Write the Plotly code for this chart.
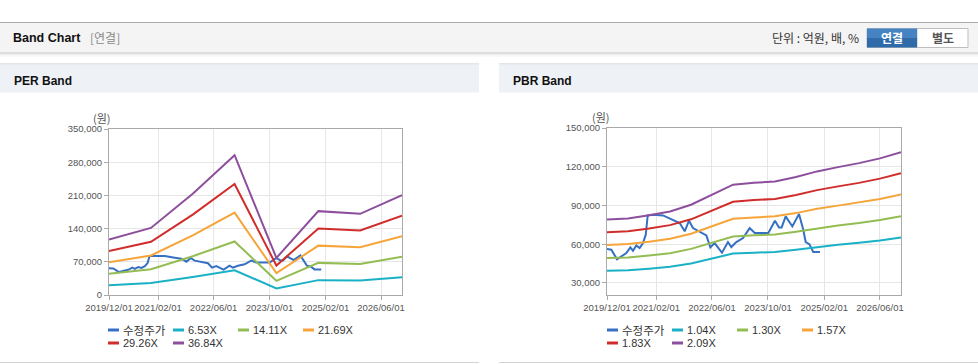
import plotly.graph_objects as go

W, H = 978, 364

# ---------------- data ----------------
price_name = "수정주가"
price_dates = ["2019-12-01", "2020-01-08", "2020-02-26", "2020-04-03", "2020-05-17", "2020-06-21",
               "2020-07-14", "2020-08-12", "2020-09-10", "2020-10-09", "2020-11-02", "2020-11-19",
               "2021-01-04", "2021-04-01", "2021-06-27", "2021-08-24", "2021-10-07", "2021-11-13",
               "2021-12-18", "2022-02-14", "2022-04-13", "2022-05-18", "2022-06-24", "2022-08-27",
               "2022-10-18", "2022-11-16", "2022-12-30", "2023-02-26", "2023-04-25", "2023-06-08",
               "2023-07-24", "2023-10-04", "2023-12-01", "2024-01-05", "2024-01-28", "2024-03-03",
               "2024-04-10", "2024-04-30", "2024-06-27", "2024-08-03", "2024-08-24", "2024-09-25",
               "2024-10-29", "2024-12-26"]
price_vals = [56300, 55800, 48300, 50600, 53200, 57600,
              55000, 59100, 57000, 60900, 67400, 82300,
              82800, 82300, 78700, 76400, 70000, 78200,
              72500, 69400, 66900, 57600, 60900, 53400,
              61700, 57800, 61700, 64800, 72500, 68700,
              68700, 68700, 78200, 73000, 73000, 81600,
              76400, 73800, 83400, 71200, 61700, 60100,
              54000, 54000]

per_dates = ["2019-12-01", "2020-12-01", "2021-12-01", "2022-12-01",
             "2023-12-01", "2024-12-01", "2025-12-01", "2026-12-01"]
per_names = ["6.53X", "14.11X", "21.69X", "29.26X", "36.84X"]
per_653 = [20740, 25060, 37840, 52250, 13840, 31340, 30330, 37350]
per_1411 = [44810, 54160, 81770, 112900, 29910, 67730, 65530, 80700]
per_2169 = [68890, 83250, 125700, 173600, 45980, 104100, 100700, 124000]
per_2926 = [92930, 112300, 169600, 234100, 62030, 140400, 135900, 167300]
per_3684 = [117000, 141400, 213500, 294800, 78100, 176800, 171100, 210700]

pbr_dates = ["2019-12-01", "2020-06-01", "2020-12-01", "2021-06-01", "2021-12-01",
             "2022-06-01", "2022-12-01", "2023-06-01", "2023-12-01", "2024-06-01",
             "2024-12-01", "2025-06-01", "2025-12-01", "2026-06-01", "2026-12-01"]
pbr_names = ["1.04X", "1.30X", "1.57X", "1.83X", "2.09X"]
pbr_104 = [39400, 39800, 41100, 42500, 45100, 48800, 52800, 53500, 54000, 55700, 57900, 59600, 61100, 62900, 65300]
pbr_130 = [49300, 49800, 51300, 53100, 56400, 61000, 66000, 66900, 67500, 69700, 72400, 74500, 76400, 78700, 81700]
pbr_157 = [59500, 60100, 62000, 64200, 68100, 73700, 79700, 80800, 81600, 84100, 87400, 89900, 92300, 95000, 98600]
pbr_183 = [69300, 70000, 72200, 74800, 79300, 85900, 92900, 94200, 95100, 98100, 101900, 104800, 107500, 110800, 115000]
pbr_209 = [79200, 80000, 82500, 85400, 90600, 98100, 106100, 107600, 108600, 112000, 116400, 119700, 122800, 126500, 131300]

x_tick_vals = ["2019-12-01", "2021-02-01", "2022-06-01", "2023-10-01", "2025-02-01", "2026-06-01"]
x_tick_text = ["2019/12/01", "2021/02/01", "2022/06/01", "2023/10/01", "2025/02/01", "2026/06/01"]
per_y_ticks = [0, 70000, 140000, 210000, 280000, 350000]
pbr_y_ticks = [30000, 60000, 90000, 120000, 150000]

# ---------------- style ----------------
colors = ["#3670c4", "#1ab1c6", "#93bd52", "#f6a53a", "#d12c2c", "#8d4f9d"]
FONT = "Liberation Sans, Noto Sans CJK KR, sans-serif"
KFONT = "Noto Sans CJK KR, Liberation Sans, sans-serif"


def px(x):
    return x / W


def py(y):
    return 1 - y / H


fig = go.Figure()

per_series = [per_653, per_1411, per_2169, per_2926, per_3684]
pbr_series = [pbr_104, pbr_130, pbr_157, pbr_183, pbr_209]

fig.add_trace(go.Scatter(x=price_dates, y=price_vals, mode="lines", name=price_name,
                         line=dict(color=colors[0], width=2), xaxis="x", yaxis="y"))
for i, (nm, s) in enumerate(zip(per_names, per_series)):
    fig.add_trace(go.Scatter(x=per_dates, y=s, mode="lines", name=nm,
                             line=dict(color=colors[i + 1], width=2), xaxis="x", yaxis="y"))

fig.add_trace(go.Scatter(x=price_dates, y=price_vals, mode="lines", name=price_name,
                         line=dict(color=colors[0], width=2), xaxis="x2", yaxis="y2"))
for i, (nm, s) in enumerate(zip(pbr_names, pbr_series)):
    fig.add_trace(go.Scatter(x=pbr_dates, y=s, mode="lines", name=nm,
                             line=dict(color=colors[i + 1], width=2), xaxis="x2", yaxis="y2"))

axis_common = dict(showline=True, linecolor="#aaaaaa", linewidth=1, mirror=True,
                   showgrid=True, gridcolor="#e6e6e6", gridwidth=1,
                   ticks="outside", ticklen=4, tickcolor="#aaaaaa", automargin=False,
                   tickangle=0,
                   tickfont=dict(family=FONT, size=9.5, color="#555555"), zeroline=False)

xr = ["2019-12-01", "2026-12-01"]
fig.update_layout(
    xaxis=dict(domain=[px(109), px(402)], anchor="y", type="date", range=xr,
               tickvals=x_tick_vals, ticktext=x_tick_text, **axis_common),
    yaxis=dict(domain=[py(295), py(129)], anchor="x", range=[0, 350000],
               tickvals=per_y_ticks, tickformat=",d", **axis_common),
    xaxis2=dict(domain=[px(607), px(901)], anchor="y2", type="date", range=xr,
                tickvals=x_tick_vals, ticktext=x_tick_text, **axis_common),
    yaxis2=dict(domain=[py(295), py(128)], anchor="x2", range=[20700, 150000],
                tickvals=pbr_y_ticks, tickformat=",d", **axis_common),
)

shapes = []
annotations = []


def rect(x0, y0, x1, y1, fill, line=None):
    shapes.append(dict(type="rect", xref="paper", yref="paper",
                       x0=px(x0), x1=px(x1), y0=py(y1), y1=py(y0),
                       fillcolor=fill, line=dict(width=1, color=line) if line else dict(width=0),
                       layer="below"))


def hline(x0, x1, y, color, width=1):
    shapes.append(dict(type="line", xref="paper", yref="paper",
                       x0=px(x0), x1=px(x1), y0=py(y), y1=py(y),
                       line=dict(color=color, width=width), layer="below"))


def text(x, y, s, size, color, xanchor="left", bold=False, family=FONT):
    annotations.append(dict(xref="paper", yref="paper", x=px(x), y=py(y), text=("<b>%s</b>" % s) if bold else s,
                            showarrow=False, xanchor=xanchor, yanchor="middle",
                            font=dict(family=family, size=size, color=color)))


# top header bar
hline(0, W, 22.5, "#ababab")
rect(0, 23, W, 52.5, "#f4f4f4")
hline(0, W, 53, "#c2c2c2")
hline(0, W, 54, "#dcdcdc")
hline(0, W, 55, "#ececec")
hline(0, W, 56, "#f6f6f6")
text(11, 38, "Band Chart", 12.5, "#111111", bold=True)
text(88, 38, "[연결]", 12, "#8a8a8a", family=KFONT)
text(861, 38, "단위 : 억원, 배, %", 12, "#333333", xanchor="right", family=KFONT)
# buttons
rect(867, 28.5, 917, 47.5, "#ffffff", "#bdbdbd")
rect(917, 28.5, 968, 47.5, "#ffffff", "#bdbdbd")
rect(867, 28.5, 917, 38, "#4683c3")
rect(867, 38, 917, 47.5, "#2f6aa9")
text(892, 38, "연결", 12, "#ffffff", xanchor="center", bold=True, family=KFONT)
text(942.5, 38, "별도", 12, "#555555", xanchor="center", bold=True, family=KFONT)

# panels
for (x0, x1, title) in [(0, 479, "PER Band"), (499, W, "PBR Band")]:
    hline(x0, x1, 64, "#cccccc")
    rect(x0, 64.5, x1, 92.5, "#eef1f6")
    hline(x0, x1, 362.5, "#d4d4d4")
    text(x0 + 11.5, 80.5, title, 12, "#111111", bold=True)

text(102, 118, "(원)", 11, "#555555", xanchor="center", family=KFONT)
text(601, 117, "(원)", 11, "#555555", xanchor="center", family=KFONT)

# custom legends
legend_names_per = [price_name] + per_names
legend_names_pbr = [price_name] + pbr_names
for (lx, names) in [(108, legend_names_per), (607, legend_names_pbr)]:
    for i, nm in enumerate(names):
        col, row = i % 4, i // 4
        x = lx + col * 65
        y = 330 + row * 13
        shapes.append(dict(type="line", xref="paper", yref="paper",
                           x0=px(x), x1=px(x + 11), y0=py(y), y1=py(y),
                           line=dict(color=colors[i], width=3)))
        text(x + 12.5, y, nm, 11.5 if i == 0 else 11, "#333333",
             family=KFONT if i == 0 else FONT)

fig.update_layout(
    width=W, height=H, margin=dict(l=0, r=0, t=0, b=0, autoexpand=False),
    paper_bgcolor="#ffffff", plot_bgcolor="#ffffff",
    showlegend=False, shapes=shapes, annotations=annotations,
    font=dict(family=FONT),
)

fig.write_html("out.html", config={"displayModeBar": False},
               post_script="document.body.style.margin='0';document.body.style.overflow='hidden';")
